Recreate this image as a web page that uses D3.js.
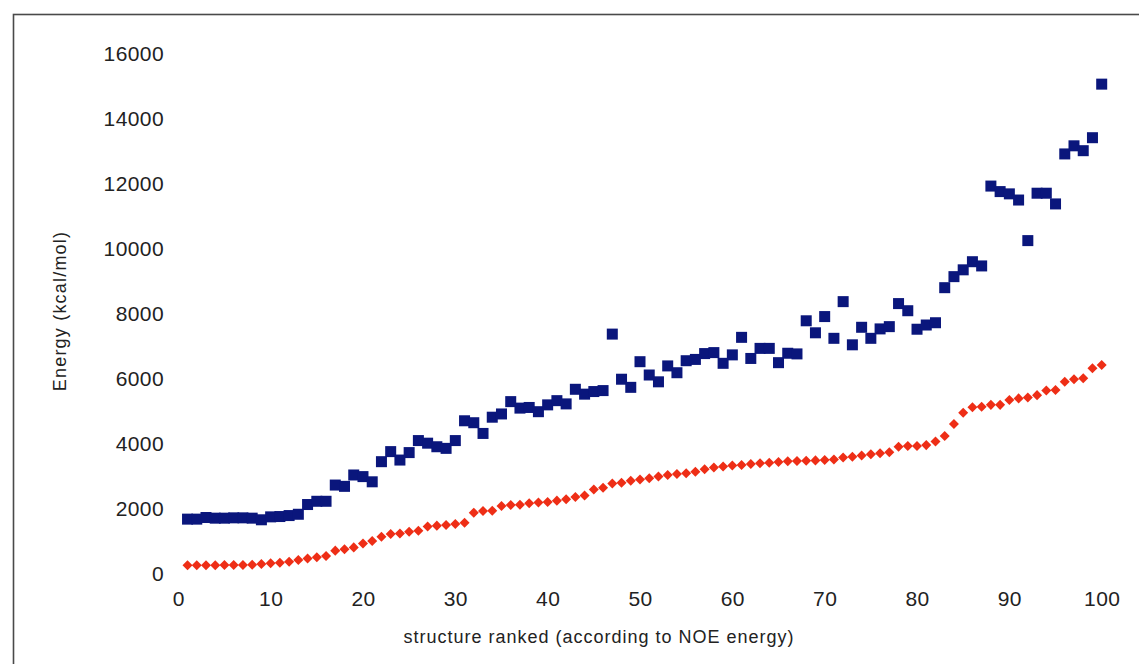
<!DOCTYPE html>
<html>
<head>
<meta charset="utf-8">
<script src="https://cdn.jsdelivr.net/npm/d3@7"></script>
<style>
  html, body { margin: 0; padding: 0; background: #fff; }
  svg { display: block; }
  text { font-family: "Liberation Sans", Arial, sans-serif; fill: #222; }
</style>
</head>
<body>
<svg id="chart" width="1139" height="664"></svg>
<script>
// Structures ranked 1..100 by NOE energy
const ranks = d3.range(1, 101);

// Total energy per structure (kcal/mol)
const totalEnergy = [
  1650, 1650, 1700, 1680, 1680, 1690, 1690, 1680, 1630, 1720,
  1730, 1760, 1800, 2100, 2200, 2200, 2700, 2660, 3010, 2960,
  2800, 3420, 3730, 3470, 3700, 4070, 3990, 3880, 3830, 4070,
  4680, 4620, 4290, 4790, 4890, 5270, 5070, 5090, 4960, 5170,
  5300, 5200, 5650, 5500, 5580, 5610, 7350, 5960, 5710, 6500,
  6090, 5880, 6370, 6160, 6530, 6570, 6750, 6780, 6450, 6710,
  7250, 6600, 6910, 6910, 6470, 6760, 6740, 7760, 7390, 7890,
  7220, 8350, 7020, 7560, 7220, 7510, 7580, 8290, 8070, 7500,
  7630, 7700, 8780, 9120, 9330, 9580, 9450, 11910, 11740, 11670,
  11480, 10230, 11690, 11690, 11360, 12900, 13150, 13000, 13400, 15050
];

// NOE energy per structure (kcal/mol)
const noeEnergy = [
  230, 230, 230, 230, 235, 235, 240, 245, 265, 290,
  310, 340, 390, 440, 475, 515, 680, 720, 780, 900,
  980, 1110, 1190, 1210, 1260, 1290, 1420, 1450, 1470, 1500,
  1540, 1850, 1900, 1910, 2055, 2085, 2090, 2140, 2160, 2180,
  2220, 2260, 2330, 2380, 2560, 2620, 2750, 2770, 2830, 2870,
  2910, 2960, 3010, 3040, 3060, 3110, 3190, 3240, 3270, 3300,
  3320, 3350, 3370, 3390, 3410, 3430, 3440, 3450, 3460, 3470,
  3490, 3550, 3570, 3610, 3650, 3680, 3710, 3880, 3900, 3900,
  3930, 4040, 4210, 4580, 4930, 5100, 5110, 5170, 5170, 5320,
  5370, 5400, 5470, 5610, 5630, 5880, 5960, 5990, 6300, 6400
];

const xTicks = [0, 10, 20, 30, 40, 50, 60, 70, 80, 90, 100];
const yTicks = [0, 2000, 4000, 6000, 8000, 10000, 12000, 14000, 16000];

const xTitle = "structure ranked (according to NOE energy)";
const yTitle = "Energy (kcal/mol)";

const svg = d3.select("#chart");
const W = 1139, H = 664;

svg.append("rect").attr("width", W).attr("height", H).attr("fill", "#fff");

// outer chart frame (continues past the right/bottom edges)
svg.append("rect")
  .attr("x", 13.5).attr("y", 14.5)
  .attr("width", W + 20).attr("height", H + 20)
  .attr("fill", "none")
  .attr("stroke", "#4a4a4a")
  .attr("stroke-width", 1.6);

const x = d3.scaleLinear().domain([0, 100]).range([178.3, 1101.7]);
const y = d3.scaleLinear().domain([0, 16000]).range([572.7, 53.3]);

// y axis labels only (no line, no ticks)
const yAxis = svg.append("g")
  .attr("transform", "translate(164,0)")
  .call(d3.axisLeft(y).tickValues(yTicks).tickSize(0).tickPadding(0).tickFormat(d3.format("d")));
yAxis.select(".domain").remove();
yAxis.selectAll("text")
  .attr("font-size", 21)
  .attr("letter-spacing", 0.4)
  .attr("font-family", "Liberation Sans, Arial, sans-serif")
  .attr("fill", "#222")
  .attr("dy", "0.36em");

// x axis labels only
const xAxis = svg.append("g")
  .attr("transform", "translate(0,591)")
  .call(d3.axisBottom(x).tickValues(xTicks).tickSize(0).tickPadding(0).tickFormat(d3.format("d")));
xAxis.select(".domain").remove();
xAxis.selectAll("text")
  .attr("font-size", 21)
  .attr("letter-spacing", 0.4)
  .attr("font-family", "Liberation Sans, Arial, sans-serif")
  .attr("fill", "#222")
  .attr("dy", "0.71em");

// axis titles
svg.append("text")
  .attr("x", 599).attr("y", 643)
  .attr("text-anchor", "middle")
  .attr("font-size", 18)
  .attr("letter-spacing", 1)
  .text(xTitle);

svg.append("text")
  .attr("transform", "translate(66,311) rotate(-90)")
  .attr("text-anchor", "middle")
  .attr("font-size", 18)
  .attr("letter-spacing", 1.2)
  .text(yTitle);

// total energy: navy squares
const sq = 11;
svg.append("g").selectAll("rect")
  .data(ranks)
  .join("rect")
  .attr("x", (d, i) => x(d) - sq / 2)
  .attr("y", (d, i) => y(totalEnergy[i]) - sq / 2)
  .attr("width", sq).attr("height", sq)
  .attr("fill", "#0a167c");

// NOE energy: red diamonds
const diamond = d3.symbol().type(d3.symbolDiamond2 || d3.symbolDiamond).size(64);
svg.append("g").selectAll("path")
  .data(ranks)
  .join("path")
  .attr("d", diamond)
  .attr("transform", (d, i) => `translate(${x(d)},${y(noeEnergy[i])})`)
  .attr("fill", "#ee2e16");
</script>
</body>
</html>
